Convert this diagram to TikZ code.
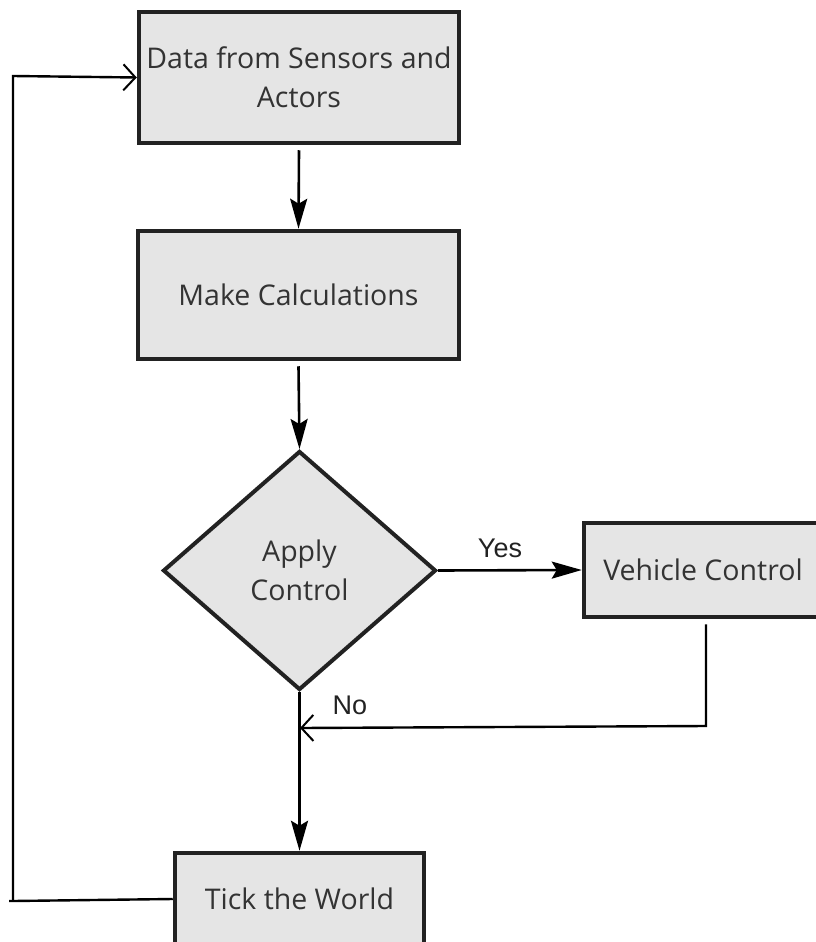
\documentclass[tikz,border=0pt]{standalone}
\usepackage{fontspec}
\setmainfont{Open Sans}
\newfontfamily\lblfont{Liberation Sans}
\usetikzlibrary{shapes.geometric,arrows.meta}
\definecolor{boxfill}{HTML}{E5E5E5}
\definecolor{boxline}{HTML}{222222}
\definecolor{txt}{HTML}{333333}
\tikzset{
  procbox/.style={draw=boxline, line width=4.5pt, fill=boxfill, text=txt,
    font=\fontsize{28.5}{39}\selectfont, align=center, inner sep=0pt},
  decision/.style={procbox, diamond, line width=4pt},
  flow/.style={line width=2.6pt, -{Stealth[length=30pt,width=17pt,inset=5pt]}},
  back/.style={line width=2.4pt, -{Straight Barb[length=12pt,width=26pt,line width=2pt]}},
  plain/.style={line width=2.4pt},
  lbl/.style={font=\lblfont\fontsize{27}{30}\selectfont, text=boxline}
}
\begin{document}
\begin{tikzpicture}[x=1pt,y=-1pt]
  \useasboundingbox (0,0) rectangle (816,942);
  \clip (0,0) rectangle (816,942);

  % process steps
  \node[procbox, minimum width=320pt, minimum height=131pt] (data) at (299,77.5)
    {Data from Sensors and\\Actors};
  \node[procbox, minimum width=321pt, minimum height=128pt] (calc) at (298.5,295)
    {Make Calculations};
  \node[decision, minimum width=273pt, minimum height=239pt] (apply) at (299.5,570.5)
    {Apply\\Control};
  \node[procbox, minimum width=238pt, minimum height=94pt] (vehicle) at (703,570)
    {Vehicle Control};
  \node[procbox, minimum width=249pt, minimum height=92pt] (tick) at (299.5,899)
    {Tick the World};

  % join point on the main line and corners of the loops
  \coordinate (merge) at (300,728);
  \coordinate (vdown) at (706,726);
  \coordinate (lbot) at (13,901);
  \coordinate (ltop) at (13,76);

  % main flow
  \draw[flow] (data.south) ++(0,5) -- (calc.north);
  \draw[flow] (calc.south) ++(0,5) -- (apply.north);
  \draw[flow] (apply.east) -- (vehicle.west);
  \draw[flow] (apply.south) -- (tick.north);

  % return from vehicle control
  \draw[back] (vehicle.south -| vdown) ++(0,5) -- (vdown) -- (merge);

  % loop back to the start
  \draw[plain] (tick.west) -- (lbot) -- ++(-4,0);
  \draw[back] (lbot) -- (ltop) -- (data.west);

  % branch labels
  \node[lbl] (yes) at (500,548) {Yes};
  \node[lbl] (no) at (350,705) {No};
\end{tikzpicture}
\end{document}
